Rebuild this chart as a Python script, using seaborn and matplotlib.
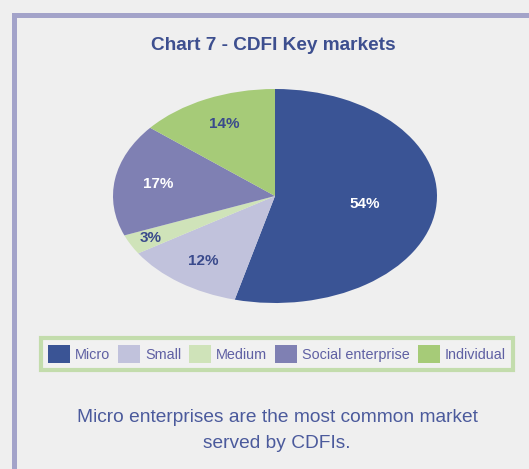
import numpy as np
import matplotlib
matplotlib.use('Agg')
import matplotlib.pyplot as plt
import matplotlib.patches as mpatches
import seaborn as sns

labels = ['Micro', 'Small', 'Medium', 'Social enterprise', 'Individual']
shares = [54, 12, 3, 17, 14]
colors = ['#3a5495', '#c1c2dc', '#cfe3b9', '#7f80b3', '#a6cb78']
label_colors = ['white', '#3a4a8c', '#3a4a8c', 'white', '#3a4a8c']
label_dist = [0.56, 0.75, 0.86, 0.73, 0.74]

sns.set_theme(style='white')
plt.rcParams['font.family'] = ['Liberation Sans', 'DejaVu Sans']

bg = '#efefef'
fig = plt.figure(figsize=(5.29, 4.69), dpi=100, facecolor=bg)

# outer frame (only left and top edges visible in crop)
frame = mpatches.Rectangle((13.5 / 529, -0.2), 2, 1.2 - 14.8 / 469,
                           transform=fig.transFigure, fill=False,
                           edgecolor='#a3a3c9', linewidth=3.6, clip_on=False)
fig.patches.append(frame)

fig.text(273 / 529, 1 - 46 / 469, 'Chart 7 - CDFI Key markets', ha='center', va='center',
         fontsize=13.7, fontweight='bold', color='#3d4f8f')

ax = fig.add_axes([113 / 529, 166 / 469, 324 / 529, 214 / 469])
ax.set_facecolor(bg)
wedges, _ = ax.pie(shares, colors=colors, startangle=90, counterclock=False,
                   wedgeprops=dict(linewidth=0))
ax.set_aspect('auto')
ax.set_xlim(-1, 1)
ax.set_ylim(-1, 1)
ax.axis('off')

for w, val, d, c in zip(wedges, shares, label_dist, label_colors):
    mid = np.deg2rad((w.theta1 + w.theta2) / 2)
    ax.text(d * np.cos(mid), d * np.sin(mid), f'{val}%', ha='center', va='center',
            fontsize=11, fontweight='bold', color=c)

leg = fig.legend(wedges, labels, loc='center', bbox_to_anchor=(277 / 529, 1 - 354 / 469),
                 ncol=5, fontsize=10.4, handlelength=1.52, handleheight=1.52,
                 handletextpad=0.35, columnspacing=0.55, borderpad=0.5,
                 fancybox=False, frameon=True, labelcolor='#5f60a3')
leg.get_frame().set_edgecolor('#b8d89c')
leg.get_frame().set_linewidth(3)
leg.get_frame().set_facecolor('#f2f2f2')

fig.text(277 / 529, 1 - 417 / 469, 'Micro enterprises are the most common market',
         ha='center', va='center', fontsize=13.8, color='#4b5a9c')
fig.text(277 / 529, 1 - 443 / 469, 'served by CDFIs.',
         ha='center', va='center', fontsize=13.8, color='#4b5a9c')

fig.savefig('out.png', dpi=100, facecolor=bg)
